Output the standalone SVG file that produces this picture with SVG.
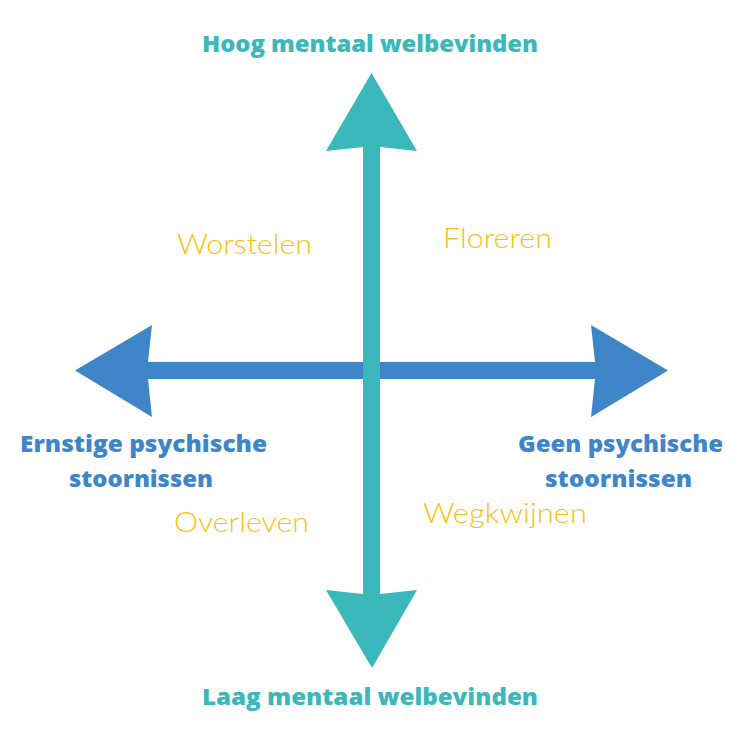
<svg xmlns="http://www.w3.org/2000/svg" width="743" height="750" viewBox="0 0 743 750">
<style>
.axis-t{font-family:"Open Sans","Noto Sans",sans-serif;font-weight:800;fill:#3BB8BC;font-size:22px}
.axis-b{font-family:"Open Sans","Noto Sans",sans-serif;font-weight:800;fill:#3F86C8;font-size:22px}
.quad{font-family:"Lato","Open Sans",sans-serif;font-weight:300;fill:#FDC010;font-size:28px}
.v{fill:#3BB8BC}
.h{fill:#3F86C8}
</style>
<rect width="743" height="750" fill="#ffffff"/>
<g id="connectors">
<polygon class="h" points="75,370.5 152,325 148,362 595,362 591,325 668,370.5 591,417 595,379 148,379 152,417"/>
<polygon class="v" points="371.5,73 417,151 380,147 380,594 417,590 372,668 326,590 363,594 363,147 326,151"/>
</g>
<g id="top-label"><text class="axis-t" x="202" y="52" textLength="336" lengthAdjust="spacingAndGlyphs">Hoog mentaal welbevinden</text></g>
<g id="bottom-label"><text class="axis-t" x="202" y="705" textLength="336" lengthAdjust="spacingAndGlyphs">Laag mentaal welbevinden</text></g>
<g id="left-label">
<text class="axis-b" x="20" y="452" textLength="247" lengthAdjust="spacingAndGlyphs">Ernstige psychische</text>
<text class="axis-b" x="69" y="487" textLength="144" lengthAdjust="spacingAndGlyphs">stoornissen</text>
</g>
<g id="right-label">
<text class="axis-b" x="518" y="452" textLength="205" lengthAdjust="spacingAndGlyphs">Geen psychische</text>
<text class="axis-b" x="545" y="487" textLength="147" lengthAdjust="spacingAndGlyphs">stoornissen</text>
</g>
<g id="worstelen"><text class="quad" x="177" y="254" textLength="135" lengthAdjust="spacingAndGlyphs">Worstelen</text></g>
<g id="floreren"><text class="quad" x="443" y="248" textLength="109" lengthAdjust="spacingAndGlyphs">Floreren</text></g>
<g id="overleven"><text class="quad" x="174" y="532" textLength="135" lengthAdjust="spacingAndGlyphs">Overleven</text></g>
<g id="wegkwijnen"><text class="quad" x="423" y="523" textLength="164" lengthAdjust="spacingAndGlyphs">Wegkwijnen</text></g>
</svg>
